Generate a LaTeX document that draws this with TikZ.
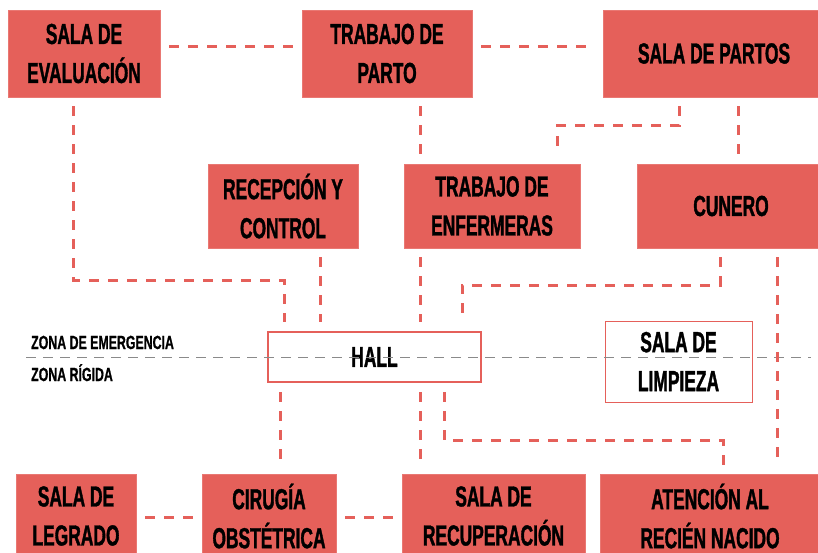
\documentclass[tikz,border=0pt]{standalone}
\usepackage{fontspec}
\newfontfamily\roomfont[FakeStretch=0.6,FakeBold=1.2]{Liberation Sans}
\newfontfamily\zonefont[FakeStretch=0.65,FakeBold=0.8]{Liberation Sans}
\definecolor{salmon}{HTML}{E5605A}
\definecolor{zonegray}{HTML}{8A8A8A}
\tikzset{
	room/.style={fill=salmon, draw=salmon!85!white, align=center, inner sep=0pt, font=\roomfont\bfseries\fontsize{29}{39}\selectfont},
	openroom/.style={room, fill=white, draw=salmon},
	twoline/.style={execute at begin node={\rule{0pt}{29pt}}},
	link/.style={draw=salmon, line width=3pt, dash pattern=on 10pt off 9pt, shorten <=9pt, shorten >=9pt},
	zone/.style={draw=zonegray, line width=1pt, dash pattern=on 10pt off 7pt},
	zonetext/.style={anchor=base west, inner sep=0pt, font=\zonefont\bfseries\fontsize{19}{22}\selectfont}
}
\begin{document}
\begin{tikzpicture}[x=1pt,y=-1pt]
	\useasboundingbox (0,0) rectangle (818,553);
	\node[room, twoline, minimum width=152pt, minimum height=87pt] (eval) at (84,53.5) {SALA DE\\EVALUACIÓN};
	\node[room, twoline, minimum width=170pt, minimum height=87pt] (parto) at (387,53.5) {TRABAJO DE\\PARTO};
	\node[room, minimum width=222pt, minimum height=87pt] (partos) at (714,53.5) {SALA DE PARTOS};
	\node[room, twoline, minimum width=150pt, minimum height=84pt] (recep) at (283,206) {RECEPCIÓN Y\\CONTROL};
	\node[room, twoline, minimum width=176pt, minimum height=84pt] (enferm) at (492,206) {TRABAJO DE\\ENFERMERAS};
	\node[room, minimum width=188pt, minimum height=84pt] (cunero) at (731,206) {CUNERO};
	\node[openroom, line width=2pt, minimum width=213pt, minimum height=50pt] (hall) at (374.5,357) {HALL};
	\node[openroom, twoline, line width=1pt, minimum width=147pt, minimum height=81pt] (limpieza) at (678.5,361.5) {SALA DE\\LIMPIEZA};
	\node[room, twoline, minimum width=120pt, minimum height=84pt] (legrado) at (76,516) {SALA DE\\LEGRADO};
	\node[room, twoline, minimum width=134pt, minimum height=84pt] (cirugia) at (269,516) {CIRUGÍA\\OBSTÉTRICA};
	\node[room, twoline, minimum width=183pt, minimum height=84pt] (recup) at (493.5,516) {SALA DE\\RECUPERACIÓN};
	\node[room, twoline, minimum width=220pt, minimum height=84pt] (atencion) at (710,516) {ATENCIÓN AL\\RECIÉN NACIDO};
	\node[zonetext] (emerg) at (31,349) {ZONA DE EMERGENCIA};
	\node[zonetext] (rigida) at (31,381) {ZONA RÍGIDA};
	\draw[zone] (26,357) -- (811,357);
	\draw[link] (eval.east |- 0,47) -- (parto.west |- 0,47);
	\draw[link] (parto.east |- 0,47) -- (partos.west |- 0,47);
	\draw[link] (eval.south -| 73,0) |- (284,280) -- (hall.north -| 284,0);
	\draw[link] (recep.south -| 320,0) -- (hall.north -| 320,0);
	\draw[link] (parto.south -| 420,0) -- (enferm.north -| 420,0);
	\draw[link] (partos.south -| 679,0) |- (557,126) -- (enferm.north -| 557,0);
	\draw[link] (partos.south -| 738,0) -- (cunero.north -| 738,0);
	\draw[link] (enferm.south -| 420,0) -- (hall.north -| 420,0);
	\draw[link] (cunero.south -| 720,0) |- (462,285) -- (hall.north -| 462,0);
	\draw[link] (cunero.south -| 777,0) -- (atencion.north -| 777,0);
	\draw[link] (hall.south -| 280,0) -- (cirugia.north -| 280,0);
	\draw[link] (hall.south -| 420,0) -- (recup.north -| 420,0);
	\draw[link] (hall.south -| 444,0) |- (723,440) -- (atencion.north -| 723,0);
	\draw[link] (legrado.east |- 0,517) -- (cirugia.west |- 0,517);
	\draw[link] (cirugia.east |- 0,517) -- (recup.west |- 0,517);
\end{tikzpicture}
\end{document}
